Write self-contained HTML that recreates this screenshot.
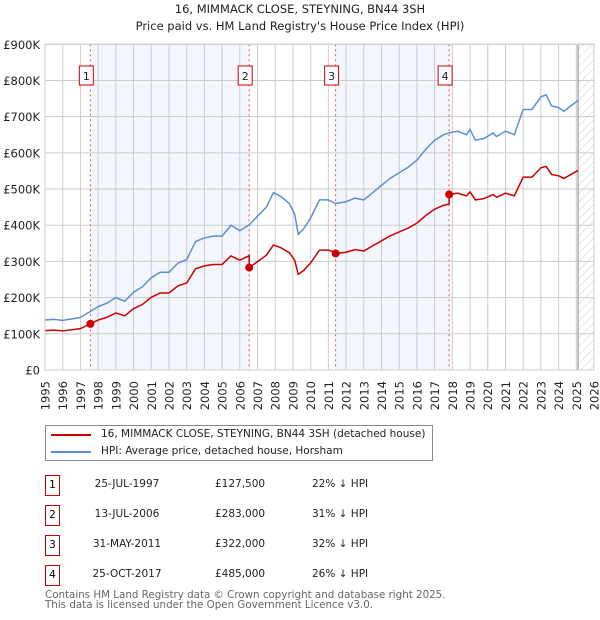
<!DOCTYPE html>
<html><head><meta charset="utf-8">
<style>
body{margin:0;background:#fff;font-family:"DejaVu Sans","Liberation Sans",sans-serif;}
#wrap{position:relative;width:600px;height:620px;overflow:hidden;}
.t{position:absolute;font-size:10.5px;color:#222;white-space:nowrap;}
.box{position:absolute;width:13px;height:19px;border:1px solid #c00;font-size:10.5px;text-align:center;line-height:19px;background:#fff;}
</style></head><body>
<div id="wrap">
<div class="t" style="left:0;width:600px;text-align:center;top:2px;font-size:11.5px">16, MIMMACK CLOSE, STEYNING, BN44 3SH</div>
<div class="t" style="left:0;width:600px;text-align:center;top:19px;font-size:11.5px">Price paid vs. HM Land Registry's House Price Index (HPI)</div>
<svg id="chart" width="600" height="420" style="position:absolute;left:0;top:0" font-family="DejaVu Sans, Liberation Sans, sans-serif"></svg>

<div style="position:absolute;left:45px;top:425px;width:386px;height:34px;border:1px solid #888;">
 <div><div style="position:absolute;left:5px;top:8px;width:40px;height:2px;background:#c00"></div><div class="t" style="left:55px;top:2px;font-size:10.5px">16, MIMMACK CLOSE, STEYNING, BN44 3SH (detached house)</div></div>
 <div><div style="position:absolute;left:5px;top:25px;width:40px;height:2px;background:#5b8fd4"></div><div class="t" style="left:55px;top:19px;font-size:10.5px">HPI: Average price, detached house, Horsham</div></div>
</div>

<div id="tbl"></div>

<div class="t" style="left:45px;top:590px;font-size:10.3px;color:#666;line-height:10px">Contains HM Land Registry data © Crown copyright and database right 2025.<br>This data is licensed under the Open Government Licence v3.0.</div>
</div>
<script>
const hpiYears=[1995,1995.5,1996,1997,1997.5,1998,1998.5,1999,1999.5,2000,2000.5,2001,2001.5,2002,2002.5,2003,2003.5,2004,2004.5,2005,2005.5,2006,2006.5,2007,2007.5,2007.9,2008.3,2008.8,2009.1,2009.3,2009.6,2010,2010.5,2011,2011.4,2012,2012.5,2013,2013.5,2014,2014.5,2015,2015.5,2016,2016.5,2017,2017.5,2017.8,2018.3,2018.8,2019,2019.3,2019.8,2020.3,2020.5,2021,2021.5,2022,2022.5,2023,2023.3,2023.6,2024,2024.3,2024.7,2025.1];
const hpiValues=[138,140,137,145,160,175,185,200,190,215,230,255,270,270,295,305,355,365,370,370,400,385,400,425,450,490,480,460,430,375,390,420,470,470,460,465,475,470,490,510,530,545,560,580,610,635,650,655,660,650,665,635,640,655,645,660,650,720,720,755,760,730,725,715,730,745];
const saleYears=[1997.56,2006.53,2011.41,2017.82];
const salePrices=[127.5,283,322,485];
const saleLabels=["1","2","3","4"];
const saleDates=["25-JUL-1997","13-JUL-2006","31-MAY-2011","25-OCT-2017"];
const salePriceText=["£127,500","£283,000","£322,000","£485,000"];
const saleHpiText=["22% ↓ HPI","31% ↓ HPI","32% ↓ HPI","26% ↓ HPI"];
const yTicks=[0,100,200,300,400,500,600,700,800,900];
const yTickLabels=["£0","£100K","£200K","£300K","£400K","£500K","£600K","£700K","£800K","£900K"];

const X0=45,X1=594,Y0=370,Y1=44.3;
const x=y=>X0+(y-1995)/(2026-1995)*(X1-X0);
const yv=v=>Y0-v/900*(Y0-Y1);
const NS="http://www.w3.org/2000/svg";
const svg=document.getElementById('chart');
function mk(t,a,p){const e=document.createElementNS(NS,t);for(const k in a)e.setAttribute(k,a[k]);(p||svg).appendChild(e);return e;}
function hpiAt(yr){for(let i=0;i<hpiYears.length-1;i++){if(yr<=hpiYears[i+1]){const f=(yr-hpiYears[i])/(hpiYears[i+1]-hpiYears[i]);return hpiValues[i]+f*(hpiValues[i+1]-hpiValues[i]);}}return hpiValues[hpiValues.length-1];}

const defs=mk('defs',{});
const pat=mk('pattern',{id:'hatch',width:6,height:6,patternUnits:'userSpaceOnUse',patternTransform:'rotate(45)'},defs);
mk('line',{x1:0,y1:0,x2:0,y2:6,stroke:'#ccc','stroke-width':1},pat);
for(let i=0;i<4;i+=2){const r=mk('rect',{x:x(saleYears[i]),y:Y1,width:x(saleYears[i+1])-x(saleYears[i]),height:Y0-Y1,fill:'#f3f6fd'});
}
const hx=x(2025.1);
const hr=mk('rect',{x:hx,y:Y1,width:X1-hx,height:Y0-Y1,fill:'url(#hatch)'});

for(let yr=1995;yr<=2026;yr++){const l=mk('line',{x1:x(yr),x2:x(yr),y1:Y1,y2:Y0,stroke:'#ccc','stroke-width':1});

const t=mk('text',{x:0,y:0,'font-size':11.5,fill:'#222','text-anchor':'end',transform:`translate(${x(yr)+4.5},381) rotate(-90)`});t.textContent=yr;
}
yTicks.forEach((v,i)=>{const l=mk('line',{x1:X0,x2:X1,y1:yv(v),y2:yv(v),stroke:'#ccc','stroke-width':1});

const t=mk('text',{x:40,y:yv(v)+4.5,'font-size':11.5,fill:'#222','text-anchor':'end'});t.textContent=yTickLabels[i];
});
const nl=mk('line',{x1:hx,x2:hx,y1:Y1,y2:Y0,stroke:'#999','stroke-width':1.2});

saleYears.forEach((s,i)=>{const l=mk('line',{x1:x(s),x2:x(s),y1:Y1,y2:Y0,stroke:'#e05050','stroke-width':1,'stroke-dasharray':'2,3'});
});
const hp=mk('polyline',{points:hpiYears.map((yr,i)=>x(yr)+','+yv(hpiValues[i])).join(' '),fill:'none',stroke:'#5b8fd4','stroke-width':1.5});

const ratios=saleYears.map((s,i)=>salePrices[i]/hpiAt(s));
function seg(yr){let k=0;for(let i=0;i<saleYears.length;i++)if(yr>=saleYears[i])k=i;return k;}
let pts=[];
const allYears=[...hpiYears,...saleYears].sort((a,b)=>a-b);
allYears.forEach(yr=>{
 const si=saleYears.indexOf(yr);
 if(si>0){pts.push(x(yr)+','+yv(hpiAt(yr)*ratios[si-1]));}
 pts.push(x(yr)+','+yv(hpiAt(yr)*ratios[seg(yr)]));
});
const pp=mk('polyline',{points:pts.join(' '),fill:'none',stroke:'#cc0000','stroke-width':1.5});

saleYears.forEach((s,i)=>{const c=mk('circle',{cx:x(s),cy:yv(salePrices[i]),r:4,fill:'#cc0000'});

const r=mk('rect',{x:x(s)-11,y:66,width:14,height:19,fill:'#fff',stroke:'#c00','stroke-width':1});

const t=mk('text',{x:x(s)-4,y:80,'font-size':11,'text-anchor':'middle',fill:'#222'});t.textContent=saleLabels[i];
});
const ax=mk('rect',{x:X0,y:Y1,width:X1-X0,height:Y0-Y1,fill:'none',stroke:'#ccc'});


const tbl=document.getElementById('tbl');
saleLabels.forEach((lab,i)=>{const top=475+i*30;
 const row=document.createElement('div');
 
 
 row.innerHTML=`<div class="box" style="left:45px;top:${top}px">${lab}</div>
 <div class="t" style="left:77px;width:100px;text-align:center;top:${top+3}px">${saleDates[i]}</div>
 <div class="t" style="left:215px;top:${top+3}px">${salePriceText[i]}</div>
 <div class="t" style="left:312px;top:${top+3}px">${saleHpiText[i]}</div>`;
 tbl.appendChild(row);});
</script>
</body></html>
